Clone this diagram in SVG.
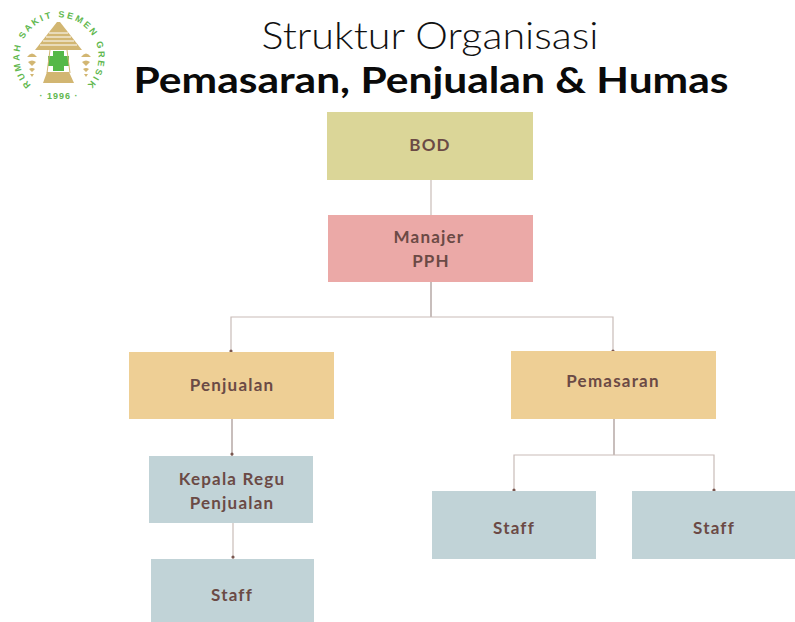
<svg xmlns="http://www.w3.org/2000/svg" xmlns:xlink="http://www.w3.org/1999/xlink" width="795" height="622" viewBox="0 0 795 622">
<style>
.lbl{font-family:Lato,"Open Sans","Liberation Sans",sans-serif;font-weight:700;font-size:17px;fill:#6b4a45;text-anchor:middle;letter-spacing:1.2px}
.con{fill:none;stroke:#c9bcb8;stroke-width:1.2}
.trunk{fill:none;stroke:#a3938f;stroke-width:1.2}
.dot{fill:#7a5750}
.y{fill:#d2b672}
.logo{font-family:"Liberation Sans",sans-serif;font-size:9px;font-weight:700;fill:#62b84f}
</style>
<defs>
<path id="arc" d="M31 85A39.6 39.6 0 1 1 87 85"/>
</defs>
<rect width="795" height="622" fill="#fff"/>
<g id="logo">
<text class="logo"><textPath xlink:href="#arc" textLength="186">RUMAH SAKIT SEMEN GRESIK</textPath></text>
<text class="logo" x="59" y="99" text-anchor="middle" letter-spacing="1">· 1996 ·</text>
<path class="y" d="M57 22H60L82 50H35Z"/>
<path d="M49 33H68M46 37H71M43 41H74M40 45H77" stroke="#fff" stroke-width="1"/>
<path class="y" d="M47 72H69L74 83H43Z"/>
<rect x="45" y="50" width="27" height="22" fill="#fff"/>
<path d="M53 51H64V56H69V66H64V71H53V66H48V56H53Z" fill="#55b848"/>
<path d="M50 50L47 73M67 50L70 73" stroke="#d2b672" stroke-width="1" fill="none"/>
<path class="y" d="M27 57Q32 50 37 57ZM28 62Q32 59 36 62L32 66ZM29 69Q32 67 35 69L32 72ZM30 74H34L32 77Z"/>
<path class="y" d="M81 57Q86 50 91 57ZM82 62Q86 59 90 62L86 66ZM83 69Q86 67 89 69L86 72ZM84 74H88L86 77Z"/>
</g>
<g id="title">
<text x="430" y="49" text-anchor="middle" textLength="337" lengthAdjust="spacingAndGlyphs" font-family="Lato,'Open Sans',sans-serif" font-weight="300" font-size="37" fill="#111">Struktur Organisasi</text>
<text x="431" y="93" text-anchor="middle" textLength="595" lengthAdjust="spacingAndGlyphs" font-family="Lato,'Open Sans',sans-serif" font-weight="700" font-size="37" fill="#0a0a0a">Pemasaran, Penjualan &amp; Humas</text>
</g>
<g id="connectors">
<path class="con" d="M431 180V215"/>
<path class="trunk" d="M431 282V317"/>
<path class="con" d="M231 352V317H613V352"/>
<path class="trunk" d="M232 419V456"/>
<path class="con" d="M233 523V559"/>
<path class="trunk" d="M614 419V455"/>
<path class="con" d="M514 491V455H714V491"/>
<circle class="dot" cx="231" cy="351" r="1.6"/><circle class="dot" cx="613" cy="351" r="1.6"/>
<circle class="dot" cx="232" cy="454" r="1.6"/><circle class="dot" cx="233" cy="557" r="1.6"/>
<circle class="dot" cx="514" cy="490" r="1.6"/><circle class="dot" cx="714" cy="490" r="1.6"/>
</g>
<g id="bod"><rect x="327" y="112" width="206" height="68" fill="#dbd698"/><text class="lbl" x="430" y="151">BOD</text></g>
<g id="manajer"><rect x="328" y="215" width="205" height="67" fill="#eba9a7"/><text class="lbl" x="429" y="243">Manajer</text><text class="lbl" x="431" y="267">PPH</text></g>
<g id="penjualan"><rect x="129" y="352" width="205" height="67" fill="#eecf95"/><text class="lbl" x="232" y="391">Penjualan</text></g>
<g id="pemasaran"><rect x="511" y="351" width="205" height="68" fill="#eecf95"/><text class="lbl" x="613" y="387">Pemasaran</text></g>
<g id="kepala"><rect x="149" y="456" width="164" height="67" fill="#c1d3d7"/><text class="lbl" x="232" y="485">Kepala Regu</text><text class="lbl" x="232" y="509">Penjualan</text></g>
<g id="staff1"><rect x="151" y="559" width="163" height="63" fill="#c1d3d7"/><text class="lbl" x="232" y="601">Staff</text></g>
<g id="staff2"><rect x="432" y="491" width="164" height="68" fill="#c1d3d7"/><text class="lbl" x="514" y="534">Staff</text></g>
<g id="staff3"><rect x="632" y="491" width="163" height="68" fill="#c1d3d7"/><text class="lbl" x="714" y="534">Staff</text></g>
</svg>
